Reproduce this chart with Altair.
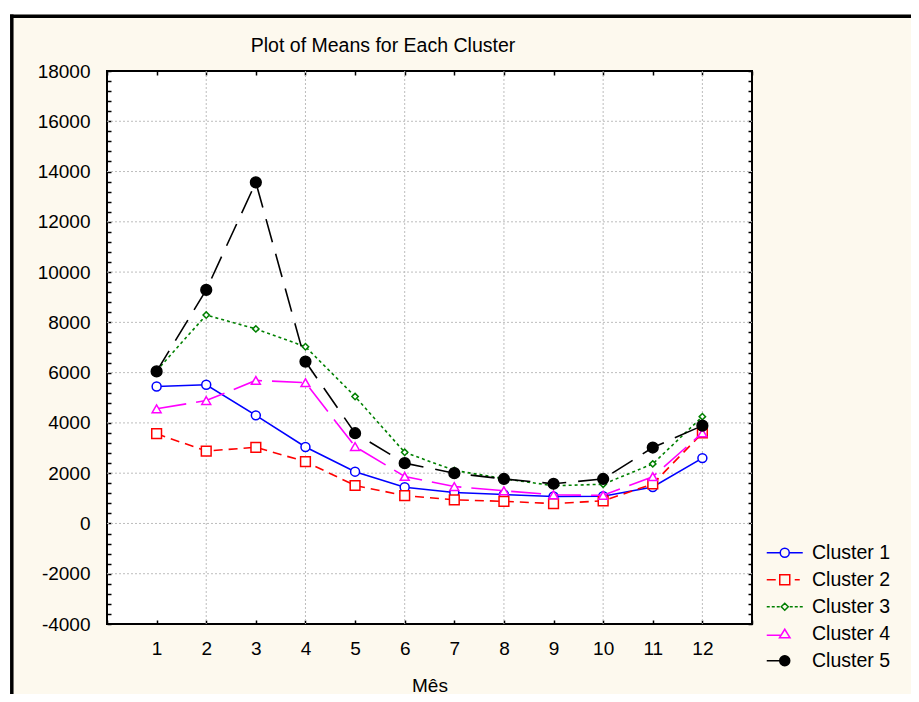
import altair as alt
import pandas as pd

# ---------------- data ----------------
months = list(range(1, 13))
clusters = ["Cluster 1", "Cluster 2", "Cluster 3", "Cluster 4", "Cluster 5"]
cluster1 = [5450, 5520, 4300, 3040, 2060, 1440, 1230, 1150, 1070, 1080, 1450, 2600]
cluster2 = [3570, 2880, 3030, 2460, 1510, 1110, 940, 880, 790, 900, 1570, 3600]
cluster3 = [6080, 8290, 7740, 7030, 5050, 2830, 2110, 1780, 1500, 1560, 2370, 4250]
cluster4 = [4560, 4890, 5690, 5600, 3060, 1870, 1470, 1300, 1140, 1120, 1860, 3600]
cluster5 = [6050, 9290, 13570, 6440, 3590, 2400, 2000, 1770, 1580, 1770, 3020, 3890]
y_label_values = list(range(-4000, 18001, 2000))
y_minor_values = list(range(-4000, 18001, 400))
x_grid_values = list(range(2, 13, 2))
y_grid_values = list(range(-2000, 16001, 2000))
x_tick_values = list(range(0, 14))

series = [cluster1, cluster2, cluster3, cluster4, cluster5]
rows = [{"mes": m, "valor": v, "cluster": c}
        for c, vals in zip(clusters, series) for m, v in zip(months, vals)]
df = pd.DataFrame(rows)

# ---------------- styles ----------------
FONT = "Liberation Sans"
CREAM = "#fdf9ee"
GRID = "#bdbdbd"
W, H = 645, 553
PAD = {"left": 99, "top": 63, "right": 159, "bottom": 70}
colors = ["#0000ff", "#ff0000", "#008000", "#ff00ff", "#000000"]
dashes = [None, [9, 6], [3, 3], [30, 10], [24, 12]]
shapes = ["circle", "square", "diamond", "triangle-up", "circle"]
sizes = [80, 95, 40, 80, 115]
fills = ["white", "white", "white", "white", "black"]
legend_paths = [
    "M-3.6,0H-0.9M0.9,0H3.6M0.9,0A0.9,0.9,0,1,1,-0.9,0A0.9,0.9,0,1,1,0.9,0Z",
    "M-3.6,0H-1.8M-1,-1H1V1H-1ZM2,0H3",
    "M-3.6,0H-3M-2.6,0H-2M-1.6,0H-1M1,0H1.6M2,0H2.6M3,0H3.6M0,-0.7L0.7,0L0,0.7L-0.7,0Z",
    "M-3.6,0.3H-0.8M0,-0.9L1.05,0.8H-1.05Z",
    "M-3.6,0H-1M1,0A1,1,0,1,1,-1,0A1,1,0,1,1,1,0Z",
]
legend_fills = ["transparent", "transparent", "transparent", "transparent", "black"]

xs = alt.Scale(domain=[0, 13], nice=False, zero=False)
ys = alt.Scale(domain=[-4000, 18000], nice=False, zero=False)

base = alt.Chart(df)
one = alt.Chart(pd.DataFrame({"k": [0]}))


def carrier(xaxis, yaxis):
    return base.mark_point(opacity=0).encode(
        x=alt.X("mes:Q", scale=xs, axis=xaxis),
        y=alt.Y("valor:Q", scale=ys, axis=yaxis),
    )


common = dict(domain=False, title=None)
nogrid = dict(grid=False, gridOpacity=0, gridWidth=0)
plain_labels = "'' + datum.value"

# labels
ax_labels = carrier(
    alt.Axis(orient="bottom", values=months, ticks=False, tickSize=0, **nogrid,
             domain=False, labelPadding=15, labelFont=FONT, labelFontSize=19,
             labelColor="black", labelOverlap=False, labelFlush=False,
             labelExpr=plain_labels,
             title="Mês", titleFont=FONT, titleFontSize=19, titleFontWeight="normal",
             titleColor="black", titlePadding=18),
    alt.Axis(orient="left", values=y_label_values, ticks=False, tickSize=0, **nogrid,
             domain=False, labelPadding=17, labelFont=FONT, labelFontSize=19,
             labelColor="black", labelOverlap=False, labelExpr=plain_labels, title=None),
)
# grid lines drawn as rules through the scales
vgrid = alt.Chart(pd.DataFrame({"g": x_grid_values})).mark_rule(
    color=GRID, strokeDash=[2, 2], strokeWidth=1
).encode(x=alt.X("g:Q", scale=xs, axis=None), y=alt.value(0), y2=alt.value(H))
hgrid = alt.Chart(pd.DataFrame({"h": y_grid_values})).mark_rule(
    color=GRID, strokeDash=[2, 2], strokeWidth=1
).encode(y=alt.Y("h:Q", scale=ys, axis=None), x=alt.value(0), x2=alt.value(W))

# inward ticks bottom / left
tick_style = dict(ticks=True, tickSize=4, tickWidth=1.5, tickColor="black",
                  labels=False, **nogrid)
ax_in1 = carrier(
    alt.Axis(orient="top", offset=-H, values=x_tick_values, **tick_style, **common),
    alt.Axis(orient="right", offset=-W, values=y_minor_values, **tick_style, **common),
)
# inward ticks top / right
ax_in2 = carrier(
    alt.Axis(orient="bottom", offset=-H, values=x_tick_values, **tick_style, **common),
    alt.Axis(orient="left", offset=-W, values=y_minor_values, **tick_style, **common),
)

# frame (white outside, black border lines)
frame = [
    one.mark_rect(color="white").encode(
        x=alt.value(-PAD["left"]), x2=alt.value(-97),
        y=alt.value(-PAD["top"]), y2=alt.value(H + PAD["bottom"])),
    one.mark_rect(color="white").encode(
        x=alt.value(-PAD["left"]), x2=alt.value(W + PAD["right"]),
        y=alt.value(-PAD["top"]), y2=alt.value(-56.5)),
    one.mark_rule(color="black", strokeWidth=3.5).encode(
        x=alt.value(-97), x2=alt.value(W + PAD["right"]), y=alt.value(-54.7)),
    one.mark_rule(color="black", strokeWidth=3.5).encode(
        x=alt.value(-95.2), y=alt.value(-56.5), y2=alt.value(H + PAD["bottom"])),
]

# series
series_layers = []
for c, col, d, sh, sz, f in zip(clusters, colors, dashes, shapes, sizes, fills):
    line_kw = dict(color=col, strokeWidth=1.6)
    if d is not None:
        line_kw["strokeDash"] = d
    enc = dict(x=alt.X("mes:Q", scale=xs, axis=None),
               y=alt.Y("valor:Q", scale=ys, axis=None))
    sub = base.transform_filter(alt.datum.cluster == c)
    series_layers.append(sub.mark_line(**line_kw).encode(**enc))
    series_layers.append(sub.mark_point(shape=sh, size=sz, filled=True, fill=f,
                                        stroke=col, strokeWidth=1.5, opacity=1).encode(**enc))

leg = alt.Legend(title=None, orient="none", legendX=668, legendY=472, padding=0,
                 labelFont=FONT, labelFontSize=19.5, labelColor="black", labelLimit=300,
                 labelOffset=17.5, rowPadding=6, symbolSize=100, symbolStrokeWidth=1.5,
                 symbolOpacity=1)
legend_layer = base.mark_point(opacity=0, size=100, strokeWidth=1.5).encode(
    x=alt.X("mes:Q", scale=xs, axis=None),
    y=alt.Y("valor:Q", scale=ys, axis=None),
    color=alt.Color("cluster:N", scale=alt.Scale(domain=clusters, range=colors), legend=leg),
    shape=alt.Shape("cluster:N", scale=alt.Scale(domain=clusters, range=legend_paths), legend=leg),
    fill=alt.Fill("cluster:N", scale=alt.Scale(domain=clusters, range=legend_fills), legend=leg),
)

chart = alt.layer(
    *frame, vgrid, hgrid, ax_labels, ax_in1, ax_in2, *series_layers, legend_layer
).resolve_axis(x="independent", y="independent").properties(
    width=W, height=H, padding=PAD, autosize="none", background=CREAM,
    title=alt.TitleParams("Plot of Means for Each Cluster", font=FONT, fontSize=19.5,
                          fontWeight="normal", color="black", anchor="middle",
                          frame="group", dx=-46.5, dy=63.7, offset=0,
                          baseline="alphabetic"),
).configure_axis(grid=False, gridOpacity=0).configure_view(
    fill="white", stroke="black", strokeWidth=2)

chart.save("out.html", embed_options={"renderer": "svg", "actions": False})
